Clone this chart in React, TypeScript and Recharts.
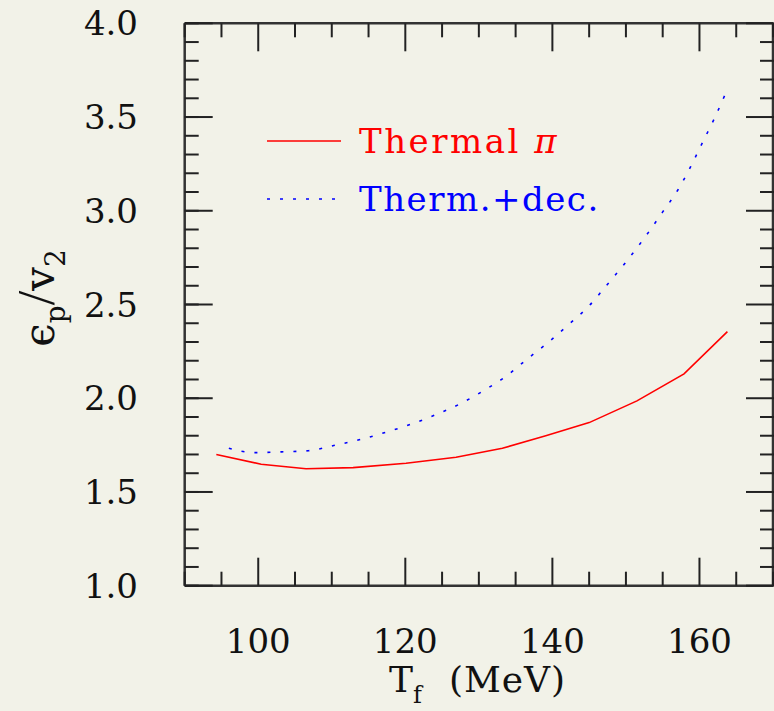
import React from "react";
import { LineChart, Line, XAxis, YAxis } from "recharts";

// Thermal pions (solid red)
const redT = [94.3, 100.4, 106.5, 112.9, 120.1, 126.9, 133.2, 139.1, 145.0, 151.5, 157.9, 163.8];
const redV = [1.70, 1.648, 1.624, 1.63, 1.653, 1.685, 1.733, 1.80, 1.87, 1.986, 2.13, 2.355];

// Thermal + decays (dotted blue)
const blueT = [96.0, 99.5, 103.2, 106.8, 110.4, 114.0, 117.4, 120.9, 124.3, 127.6, 130.8, 133.8, 136.6, 139.5, 142.2, 144.9, 147.3, 149.6, 152.9, 155.0, 157.0, 158.8, 160.4, 162.0, 163.6];
const blueV = [1.733, 1.71, 1.714, 1.72, 1.749, 1.781, 1.819, 1.863, 1.915, 1.973, 2.044, 2.12, 2.21, 2.30, 2.393, 2.489, 2.599, 2.707, 2.876, 2.994, 3.107, 3.235, 3.363, 3.49, 3.63];

const xTicks = [90, 95, 100, 105, 110, 115, 120, 125, 130, 135, 140, 145, 150, 155, 160, 165, 170];
const xLabels = [100, 120, 140, 160];
const yTicks = [
  1.0, 1.1, 1.2, 1.3, 1.4, 1.5, 1.6, 1.7, 1.8, 1.9, 2.0, 2.1, 2.2, 2.3, 2.4, 2.5,
  2.6, 2.7, 2.8, 2.9, 3.0, 3.1, 3.2, 3.3, 3.4, 3.5, 3.6, 3.7, 3.8, 3.9, 4.0,
];
const yLabels = ["1.0", "1.5", "2.0", "2.5", "3.0", "3.5", "4.0"];

const redData = redT.map((t, i) => ({ t, v: redV[i] }));
const blueData = blueT.map((t, i) => ({ t, v: blueV[i] }));

const W = 774;
const H = 711;
const LEFT = 184.7;
const TOP = 23.3;
const BOTTOM = 585.7;
const RIGHT = 774;
const AX = 1; // axis thickness so recharts still draws them
const FONT = "DejaVu Serif";
const BG = "#f2f2e8";
const TICK = "#222";

const isYMajor = (v: number) => yLabels.includes(v.toFixed(1));

const BottomTick = (props: any) => {
  const { x, payload } = props;
  const major = xLabels.includes(payload.value);
  return (
    <g>
      <line x1={x} x2={x} y1={BOTTOM} y2={BOTTOM - (major ? 28 : 14)} stroke={TICK} strokeWidth={2} />
      {major && (
        <text x={x} y={653} textAnchor="middle" fontFamily={FONT} fontSize={34} fill="#111">
          {payload.value}
        </text>
      )}
    </g>
  );
};

const TopTick = (props: any) => {
  const { x, payload } = props;
  const major = xLabels.includes(payload.value);
  return <line x1={x} x2={x} y1={TOP} y2={TOP + (major ? 28 : 14)} stroke={TICK} strokeWidth={2} />;
};

const LeftTick = (props: any) => {
  const { y, payload } = props;
  const major = isYMajor(payload.value);
  return (
    <g>
      <line x1={LEFT} x2={LEFT + 14} y1={y} y2={y} stroke={TICK} strokeWidth={2} />
      {major && (
        <>
          <line x1={LEFT} x2={LEFT + 28} y1={y} y2={y} stroke={TICK} strokeWidth={2} />
          <text x={138} y={y} textAnchor="end" dominantBaseline="central" fontFamily={FONT} fontSize={34} fill="#111">
            {payload.value.toFixed(1)}
          </text>
        </>
      )}
    </g>
  );
};

const RightTick = (props: any) => {
  const { y, payload } = props;
  const major = isYMajor(payload.value);
  return <line x1={RIGHT} x2={RIGHT - (major ? 28 : 14)} y1={y} y2={y} stroke={TICK} strokeWidth={2} />;
};

export default function App() {
  return (
    <div style={{ position: "absolute", left: 0, top: 0, width: W, height: H, background: BG, overflow: "hidden" }}>
      <LineChart
        width={W}
        height={H}
        margin={{ top: TOP - AX, left: LEFT - AX, right: 0, bottom: H - BOTTOM - AX }}
      >
        <XAxis
          xAxisId="b"
          type="number"
          dataKey="t"
          domain={[90, 170]}
          ticks={xTicks}
          interval={0}
          allowDataOverflow
          height={AX}
          tickLine={false}
          axisLine={{ stroke: "#333", strokeWidth: 2.5 }}
          tick={<BottomTick />}
        />
        <XAxis
          xAxisId="t"
          orientation="top"
          type="number"
          dataKey="t"
          domain={[90, 170]}
          ticks={xTicks}
          interval={0}
          allowDataOverflow
          height={AX}
          tickLine={false}
          axisLine={{ stroke: "#333", strokeWidth: 2.5 }}
          tick={<TopTick />}
        />
        <YAxis
          yAxisId="l"
          type="number"
          domain={[1, 4]}
          ticks={yTicks}
          interval={0}
          allowDataOverflow
          width={AX}
          tickLine={false}
          axisLine={{ stroke: "#333", strokeWidth: 2.5 }}
          tick={<LeftTick />}
        />
        <YAxis
          yAxisId="r"
          orientation="right"
          type="number"
          domain={[1, 4]}
          ticks={yTicks}
          interval={0}
          allowDataOverflow
          width={AX}
          tickLine={false}
          axisLine={{ stroke: "#333", strokeWidth: 2.5 }}
          tick={<RightTick />}
        />
        <Line
          xAxisId="b"
          yAxisId="l"
          data={redData}
          dataKey="v"
          type="linear"
          stroke="#ff0000"
          strokeWidth={1.6}
          dot={false}
          isAnimationActive={false}
        />
        <Line
          xAxisId="b"
          yAxisId="l"
          data={blueData}
          dataKey="v"
          type="monotone"
          stroke="#0000ff"
          strokeWidth={1.6}
          strokeDasharray="3 10"
          dot={false}
          isAnimationActive={false}
        />
      </LineChart>
      <svg
        width={W}
        height={H}
        style={{ position: "absolute", left: 0, top: 0, pointerEvents: "none" }}
      >
        {/* legend */}
        <line x1={267} x2={341} y1={141} y2={141} stroke="#ff0000" strokeWidth={1.6} />
        <text x={359} y={153} fontFamily={FONT} fontSize={34} letterSpacing={2.5} fill="#ff0000">
          Thermal <tspan fontStyle="italic">π</tspan>
        </text>
        <line x1={267} x2={341} y1={199} y2={199} stroke="#0000ff" strokeWidth={1.6} strokeDasharray="3 10" />
        <text x={359} y={211} fontFamily={FONT} fontSize={34} letterSpacing={1.5} fill="#0000ff">
          Therm.+dec.
        </text>
        {/* axis titles */}
        <text x={389} y={692} fontFamily={FONT} fontSize={36} fill="#111">
          T<tspan dy={11} fontSize={24}>f</tspan>
          <tspan dy={-11} dx={27} letterSpacing={1}>(MeV)</tspan>
        </text>
        <text
          transform="translate(54,298) rotate(-90)"
          textAnchor="middle"
          fontFamily={FONT}
          fontSize={42}
          fill="#111"
        >
          ϵ<tspan dy={11} fontSize={28}>p</tspan>
          <tspan dy={-11} fontSize={52} fontFamily="Liberation Serif">/</tspan>
          <tspan>v</tspan>
          <tspan dy={11} fontSize={28}>2</tspan>
        </text>
      </svg>
    </div>
  );
}
